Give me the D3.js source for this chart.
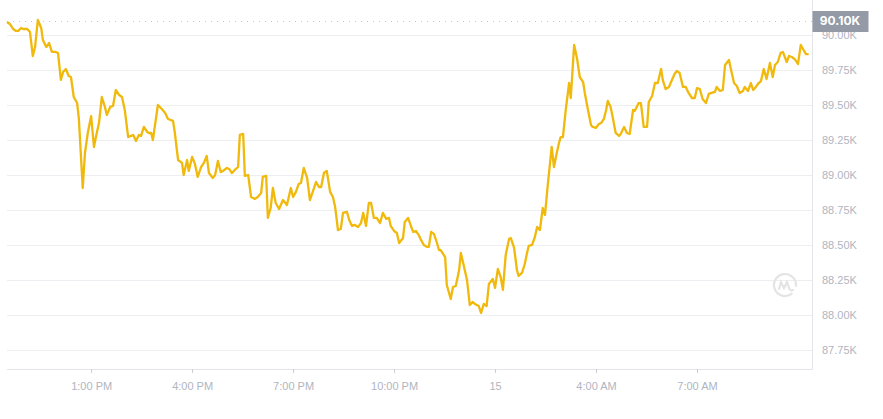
<!DOCTYPE html>
<html>
<head>
<meta charset="utf-8">
<script src="https://cdn.jsdelivr.net/npm/d3@7"></script>
<style>
  body { margin: 0; background: #fff; }
  svg { display: block; font-family: Inter, "Noto Sans", sans-serif; }
  .axis text { fill: #b0b5c1; font-size: 11px; }
  .grid line { stroke: #eceef2; }
</style>
</head>
<body>
<svg id="chart" width="883" height="419"></svg>
<script>
// price samples, day 14 10:30 -> day 15 10:19 (time rolls over after midnight)
var times = ["10:30","10:35","10:41","10:46","10:50","10:55","10:59","11:06","11:11","11:16",
  "11:20","11:25","11:31","11:34","11:40","11:45","11:50","11:56","12:01","12:06",
  "12:10","12:15","12:20","12:24","12:29","12:35","12:38","12:45","12:49","12:54",
  "13:00","13:05","13:10","13:14","13:19","13:25","13:28","13:34","13:39","13:44",
  "13:50","13:55","14:00","14:06","14:11","14:15","14:20","14:25","14:29","14:34",
  "14:40","14:43","14:47","14:50","14:59","15:06","15:12","15:17","15:26","15:29",
  "15:35","15:42","15:45","15:51","15:54","16:00","16:05","16:10","16:16","16:21",
  "16:26","16:30","16:37","16:41","16:46","16:51","16:55","17:02","17:06","17:11",
  "17:16","17:22","17:25","17:31","17:34","17:40","17:45","17:52","17:57","18:03",
  "18:06","18:12","18:15","18:20","18:24","18:29","18:35","18:42","18:45","18:49",
  "18:56","19:00","19:05","19:10","19:14","19:19","19:25","19:30","19:35","19:41",
  "19:46","19:50","19:55","20:00","20:06","20:11","20:15","20:20","20:25","20:29",
  "20:36","20:40","20:45","20:50","20:56","21:01","21:05","21:10","21:15","21:19",
  "21:24","21:29","21:35","21:40","21:46","21:51","21:54","22:00","22:05","22:09",
  "22:16","22:19","22:25","22:30","22:34","22:39","22:44","22:48","22:53","22:59",
  "23:02","23:06","23:11","23:16","23:20","23:23","23:31","23:34","23:41","23:45",
  "23:50","23:56","23:59","00:04","00:10","00:15","00:20","00:24","00:31","00:35",
  "00:40","00:45","00:49","00:56","01:00","01:05","01:10","01:14","01:19","01:25",
  "01:28","01:34","01:39","01:42","01:48","01:53","01:57","02:00","02:06","02:11",
  "02:15","02:20","02:25","02:29","02:34","02:41","02:45","02:50","02:54","02:57",
  "03:01","03:06","03:12","03:15","03:21","03:26","03:31","03:37","03:40","03:45",
  "03:51","03:54","04:00","04:05","04:09","04:14","04:18","04:21","04:26","04:30",
  "04:35","04:41","04:44","04:50","04:55","05:00","05:06","05:09","05:16","05:20",
  "05:25","05:31","05:34","05:40","05:45","05:50","05:56","05:59","06:04","06:10",
  "06:13","06:20","06:24","06:29","06:35","06:40","06:45","06:51","06:56","07:00",
  "07:05","07:10","07:16","07:21","07:26","07:32","07:35","07:41","07:46","07:50",
  "07:57","08:00","08:06","08:11","08:16","08:22","08:25","08:31","08:36","08:40",
  "08:45","08:50","08:54","08:59","09:04","09:10","09:15","09:19","09:24","09:29",
  "09:33","09:40","09:44","09:49","09:54","10:00","10:05","10:09","10:14","10:19"];

var prices = [90093,90079,90043,90029,90029,90050,90043,90043,90021,89850,
  89914,90107,90050,89964,89914,89943,89879,89879,89871,89679,
  89736,89757,89707,89700,89557,89514,89407,88907,89157,89300,
  89421,89200,89300,89371,89557,89479,89429,89486,89493,89607,
  89571,89557,89464,89271,89279,89286,89243,89286,89279,89343,
  89307,89300,89300,89250,89500,89471,89443,89400,89386,89307,
  89107,89086,89000,89107,89029,89129,89079,88986,89057,89086,
  89136,89014,88979,89000,89100,89021,89029,89050,89043,89014,
  89036,89057,89286,89293,88993,89000,88843,88829,88843,88871,
  88986,88993,88693,88764,88907,88800,88757,88821,88807,88786,
  88907,88843,88879,88936,88943,89050,88979,88821,88879,88950,
  88914,88914,89014,89029,88879,88843,88771,88607,88614,88729,
  88736,88679,88636,88643,88629,88657,88729,88636,88800,88800,
  88693,88693,88657,88729,88686,88693,88636,88600,88586,88514,
  88550,88664,88693,88636,88593,88600,88571,88536,88500,88486,
  88486,88593,88579,88521,88464,88464,88414,88214,88114,88200,
  88207,88321,88443,88357,88250,88071,88093,88079,88064,88014,
  88079,88064,88221,88257,88193,88329,88271,88179,88429,88543,
  88550,88479,88321,88279,88300,88364,88443,88493,88500,88557,
  88629,88607,88764,88714,88929,89200,89057,89157,89229,89271,
  89271,89464,89657,89550,89929,89836,89700,89664,89586,89479,
  89357,89343,89336,89364,89371,89400,89464,89529,89486,89407,
  89300,89279,89293,89343,89300,89293,89464,89457,89514,89514,
  89343,89343,89521,89564,89657,89657,89757,89679,89614,89629,
  89657,89721,89743,89729,89629,89629,89586,89550,89550,89621,
  89614,89543,89514,89579,89586,89593,89629,89600,89607,89786,
  89821,89764,89657,89636,89586,89600,89629,89600,89657,89607,
  89629,89657,89671,89757,89686,89800,89700,89786,89807,89871,
  89879,89807,89850,89843,89829,89793,89929,89900,89864,89864];

var yTicks = [87750, 88000, 88250, 88500, 88750, 89000, 89250, 89500, 89750, 90000];
var xTickTimes = ["13:00", "16:00", "19:00", "22:00", "01:00", "04:00", "07:00"];
var xTickLabels = ["1:00 PM", "4:00 PM", "7:00 PM", "10:00 PM", "15", "4:00 AM", "7:00 AM"];
var openPrice = 90100;
var timeStart = "10:30", timeEnd = "10:25";
var priceRange = [87614, 90250];

var svg = d3.select("svg#chart"),
    plot = {left: 7, right: 812, top: 0, bottom: 369};

var parseClock = d3.timeParse("%Y-%m-%d %H:%M");
function toDate(t) {
  // before 10:30 means the next morning
  var day = t < "10:30" ? "2024-11-15 " : "2024-11-14 ";
  return parseClock(day + t);
}

var data = times.map(function(t, i) { return {date: toDate(t), value: prices[i]}; });

var x = d3.scaleTime()
    .domain([toDate(timeStart), toDate(timeEnd)])
    .range([plot.left, plot.right]);
var y = d3.scaleLinear()
    .domain(priceRange)
    .range([plot.bottom, plot.top]);

// grid
svg.append("g")
    .attr("class", "grid")
  .selectAll("line")
  .data(yTicks)
  .enter().append("line")
    .attr("x1", plot.left)
    .attr("x2", plot.right)
    .attr("y1", function(d) { return Math.round(y(d)) + 0.5; })
    .attr("y2", function(d) { return Math.round(y(d)) + 0.5; });

// frame: bottom and right edge
svg.append("path")
    .attr("d", "M" + plot.left + "," + (plot.bottom + 0.5) + "H" + (plot.right + 0.5) + "V0")
    .attr("fill", "none")
    .attr("stroke", "#e3e5ea");

// watermark
var mark = svg.append("g")
    .attr("transform", "translate(785,285)")
    .attr("fill", "none")
    .attr("stroke", "#e4e4e4")
    .attr("stroke-width", 2.2)
    .attr("stroke-linecap", "round");
mark.append("path")
    .attr("d", d3.arc()({innerRadius: 11, outerRadius: 11, startAngle: 2.4, endAngle: 2.4 + 5.6}));
mark.append("path")
    .attr("d", "M-6,4 L-4,-3 L-1,3 L2,-3 L4,3 Q5,6 8,5");

// y axis labels
svg.append("g")
    .attr("class", "axis axis--y")
    .attr("transform", "translate(" + plot.right + ",0)")
    .call(d3.axisRight(y).tickValues(yTicks).tickSize(0).tickPadding(10)
      .tickFormat(function(d) { return d3.format(".2f")(d / 1000) + "K"; }))
    .call(function(g) { g.select(".domain").remove(); });

// x axis
var xTickDates = xTickTimes.map(toDate);
svg.append("g")
    .attr("class", "axis axis--x")
    .attr("transform", "translate(0," + plot.bottom + ")")
    .call(d3.axisBottom(x).tickValues(xTickDates).tickSize(4).tickPadding(9)
      .tickFormat(function(d, i) { return xTickLabels[i]; }))
    .call(function(g) {
      g.select(".domain").remove();
      g.selectAll(".tick line").attr("stroke", "#c9ccd4");
    });

// open price reference
svg.append("line")
    .attr("x1", plot.left)
    .attr("x2", plot.right)
    .attr("y1", Math.round(y(openPrice)) + 0.5)
    .attr("y2", Math.round(y(openPrice)) + 0.5)
    .attr("stroke", "#c4c8d0")
    .attr("stroke-dasharray", "1,5");

// price line
var line = d3.line()
    .x(function(d) { return x(d.date); })
    .y(function(d) { return y(d.value); });

svg.append("path")
    .datum(data)
    .attr("fill", "none")
    .attr("stroke", "#f0b90b")
    .attr("stroke-width", 2.3)
    .attr("stroke-linejoin", "round")
    .attr("d", line);

// open price badge
var badge = svg.append("g")
    .attr("transform", "translate(" + plot.right + "," + y(openPrice) + ")");
badge.append("rect")
    .attr("x", 0.5)
    .attr("y", -10)
    .attr("width", 56)
    .attr("height", 21)
    .attr("fill", "#949aa6");
badge.append("text")
    .attr("x", 28)
    .attr("dy", "0.36em")
    .attr("text-anchor", "middle")
    .attr("fill", "#fff")
    .style("font-size", "12px")
    .style("font-weight", 700)
    .text(d3.format(".2f")(openPrice / 1000) + "K");
</script>
</body>
</html>
